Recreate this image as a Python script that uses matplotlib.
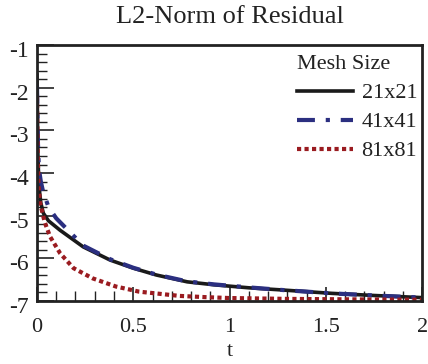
import matplotlib
matplotlib.use("Agg")
import matplotlib.pyplot as plt
import matplotlib.transforms as mtransforms
from matplotlib.ticker import MultipleLocator, FuncFormatter

plt.rcParams['font.family'] = ['Liberation Serif', 'DejaVu Serif']

title = "L2-Norm of Residual"
xlabel = "t"
legend_title = "Mesh Size"
labels = ["21x21", "41x41", "81x81"]

t_21 = [0.0, 0.005, 0.01, 0.02, 0.033, 0.06, 0.12, 0.24, 0.38, 0.5, 0.62, 0.78, 0.92, 1.1, 1.27, 1.53, 1.75, 2.0]
v_21 = [-1.7, -3.6, -4.3, -4.7, -4.94, -5.12, -5.34, -5.73, -6.04, -6.23, -6.39, -6.55, -6.62, -6.69, -6.74, -6.82, -6.87, -6.92]

t_41 = [0.0, 0.005, 0.01, 0.02, 0.03, 0.06, 0.1, 0.24, 0.38, 0.5, 0.62, 0.78, 0.92, 1.1, 1.27, 1.53, 1.75, 2.0]
v_41 = [-1.95, -3.3, -3.9, -4.2, -4.4, -4.8, -5.06, -5.7, -6.02, -6.22, -6.38, -6.54, -6.61, -6.68, -6.74, -6.82, -6.87, -6.92]

t_81 = [0.0, 0.004, 0.008, 0.016, 0.04, 0.068, 0.12, 0.19, 0.29, 0.41, 0.53, 0.74, 0.88, 1.0, 1.3, 1.6, 2.0]
v_81 = [-2.2, -3.6, -4.3, -4.7, -5.15, -5.49, -5.88, -6.23, -6.47, -6.66, -6.78, -6.88, -6.91, -6.93, -6.95, -6.96, -6.97]

fig = plt.figure(figsize=(4.28, 3.64), dpi=100)
ax = fig.add_axes([0.0864, 0.173, 0.9, 0.703])

ax.plot(t_21, v_21, color="#1a1a1a", lw=2.6, ls="-", label=labels[0])
ax.plot(t_41, v_41, color="#2b2f80", lw=3.0, ls=(0, (4.3, 2.6, 1, 2.6)), label=labels[1])
ax.plot(t_81, v_81, color="#9a1b20", lw=3.0, ls=(0, (1, 0.8)), label=labels[2])

ax.set_xlim(0, 2)
ax.set_ylim(-7, -1)
ax.xaxis.set_major_locator(MultipleLocator(0.5))
ax.xaxis.set_minor_locator(MultipleLocator(0.1))
ax.yaxis.set_major_locator(MultipleLocator(1))
ax.yaxis.set_minor_locator(MultipleLocator(0.2))
ax.xaxis.set_major_formatter(FuncFormatter(lambda v, p: f"{v:g}"))
ax.yaxis.set_major_formatter(FuncFormatter(lambda v, p: f"{v:g}"))
ax.tick_params(which="both", direction="in", top=False, right=False, labelsize=16, colors="#222222")
ax.tick_params(axis="y", labelsize=17)
ax.tick_params(axis="x", which="major", length=10, width=1.2, pad=12)
ax.tick_params(axis="y", which="major", length=12, width=1.2, pad=6)
ax.tick_params(which="minor", length=7, width=1.0)
for s in ax.spines.values():
    s.set_linewidth(2.0)
    s.set_color("#222222")

offset = mtransforms.ScaledTranslation(0, -4 / 100, fig.dpi_scale_trans)
for lab in ax.get_yticklabels():
    lab.set_transform(lab.get_transform() + offset)

ax.set_title(title, fontsize=19, color="#222222", pad=16)
ax.set_xlabel(xlabel, fontsize=16, color="#222222", labelpad=4)

leg = ax.legend(title=legend_title, loc="upper right", bbox_to_anchor=(0.987, 0.96),
                frameon=False, fontsize=16, title_fontsize=16, handlelength=2.5,
                handletextpad=0.4, labelspacing=0.38, borderaxespad=0.0, borderpad=0.0,
                markerfirst=True, alignment="left")
for txt in leg.get_texts():
    txt.set_color("#222222")
leg.get_title().set_color("#222222")

fig.savefig("out.png", dpi=100)
